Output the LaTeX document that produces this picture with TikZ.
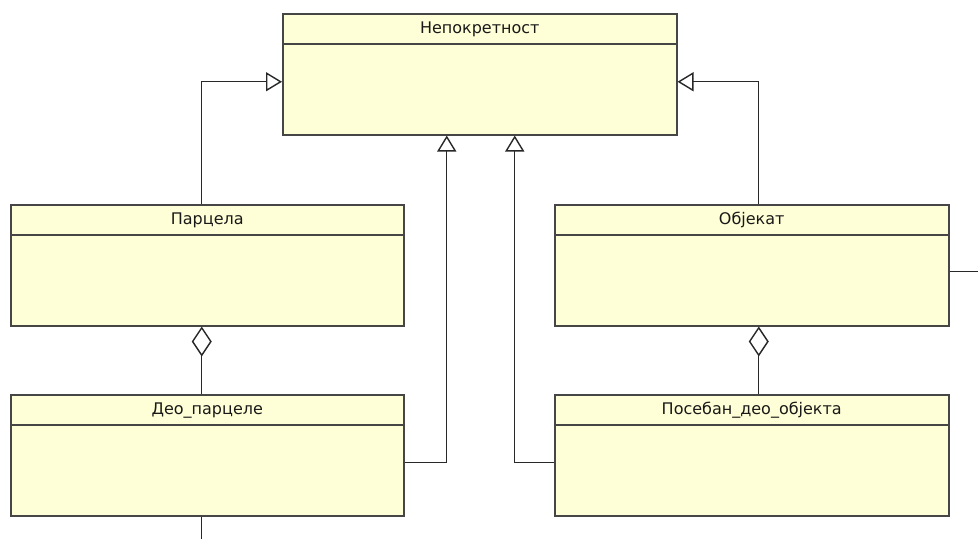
\documentclass[tikz,border=0pt]{standalone}
\usepackage{fontspec}
\setmainfont{DejaVu Sans}
\usetikzlibrary{arrows.meta,calc}
\definecolor{classfill}{RGB}{255,255,215}
\definecolor{classline}{RGB}{70,70,70}
\definecolor{wirecol}{RGB}{40,40,40}
\definecolor{titlecol}{RGB}{25,25,25}

\begin{document}
\begin{tikzpicture}[x=1pt,y=-1pt,
  cls/.style={draw=classline, fill=classfill, line width=1.5pt,
    minimum width=393pt, minimum height=121pt, inner sep=0pt, anchor=north west},
  ctitle/.style={font=\fontsize{16}{19}\selectfont, text=titlecol, inner sep=0pt, anchor=base},
  sepline/.style={draw=classline, line width=1.5pt},
  gen/.style={draw=wirecol, line width=1.4pt,
    -{Triangle[open, length=16pt, width=19pt, fill=white, line width=1.4pt]}},
  agg/.style={draw=wirecol, line width=1.4pt,
    {Diamond[open, length=30pt, width=20pt, fill=white, line width=1.4pt]}-},
  plain/.style={draw=wirecol, line width=1.4pt}]

\useasboundingbox (0,0) rectangle (978,539);

% classes
\node[cls, minimum width=394pt] (nep) at (282,13) {};
\node[cls] (par) at (10,204) {};
\node[cls] (dpar) at (10,394) {};
\node[cls, minimum width=394pt] (obj) at (554,204) {};
\node[cls, minimum width=394pt] (pdo) at (554,394) {};

% header separators and titles
\foreach \c/\t in {nep/Непокретност, par/Парцела, dpar/Део\_парцеле,
                   obj/Објекат, pdo/Посебан\_део\_објекта}{
  \draw[sepline] ([yshift=-31pt]\c.north west) -- ([yshift=-31pt]\c.north east);
  \node[ctitle] (\c-title) at ([yshift=-20.5pt]\c.north) {\t};
}

% generalisations
\draw[gen] ([xshift=-5.5pt]par.north) |- ([yshift=-7.5pt]nep.west);
\draw[gen] ([xshift=7pt]obj.north) |- ([yshift=-7.5pt]nep.east);
\draw[gen] ([yshift=-7.5pt]dpar.east) -| ([xshift=-33pt]nep.south);
\draw[gen] ([yshift=-7.5pt]pdo.west) -| ([xshift=35pt]nep.south);

% aggregations
\draw[agg] ([xshift=-5.5pt]par.south) -- ([xshift=-5.5pt]dpar.north);
\draw[agg] ([xshift=7pt]obj.south) -- ([xshift=7pt]pdo.north);

% connectors leaving the frame
\coordinate (objport) at ([yshift=-6.5pt]obj.east);
\coordinate (dparport) at ([xshift=-5.5pt]dpar.south);
\coordinate (rightedge) at (978,0);
\coordinate (bottomedge) at (0,539);
\coordinate (rightout) at (objport -| rightedge);
\coordinate (downout) at (dparport |- bottomedge);
\draw[plain] (objport) -- (rightout);
\draw[plain] (dparport) -- (downout);
\end{tikzpicture}
\end{document}
